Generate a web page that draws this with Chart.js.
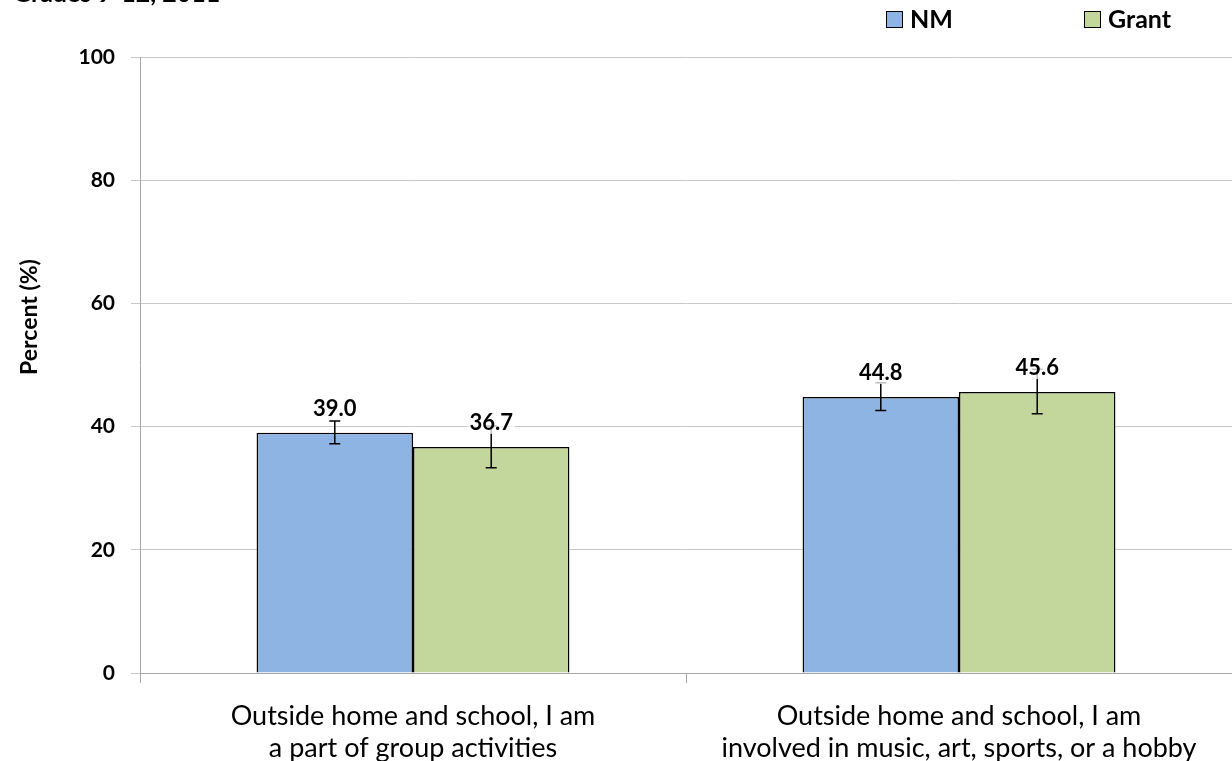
<!DOCTYPE html>
<html>
<head>
<meta charset="utf-8">
<script src="https://cdn.jsdelivr.net/npm/chart.js@4"></script>
<style>
  body { margin: 0; background: #fff; overflow: hidden; }
  #wrap { position: relative; width: 1232px; height: 761px; }
  #cut { position: absolute; left: 13px; top: -23px; font: bold 25px Lato, sans-serif; color: #000; white-space: nowrap; }
</style>
</head>
<body>
<div id="wrap">
  <canvas id="chart" width="1232" height="761"></canvas>
  <div id="cut">Grades 9-12, 2011</div>
</div>
<script>
// --- Data ---
const categories = [
    ['Outside home and school, I am', 'a part of group activities'],
    ['Outside home and school, I am', 'involved in music, art, sports, or a hobby']
];
const nmValues = [39.0, 44.8];
const nmLow = [37.2, 42.6];
const nmHigh = [40.9, 47.1];
const grantValues = [36.7, 45.6];
const grantLow = [33.3, 42.1];
const grantHigh = [40.1, 49.3];
const yTicks = [0, 20, 40, 60, 80, 100];
const yTitle = 'Percent (%)';

const seriesColors = {
    nm: '#8eb4e3',
    grant: '#c3d69b'
};

const FONT = 'Lato, "Open Sans", sans-serif';

// --- Plugins ---
const errorBars = {
    id: 'errorBars',
    afterDatasetsDraw(chart) {
        const ctx = chart.ctx;
        const y = chart.scales.y;
        const lows = [nmLow, grantLow];
        const highs = [nmHigh, grantHigh];
        ctx.save();
        ctx.strokeStyle = '#000';
        ctx.lineWidth = 1.5;
        chart.data.datasets.forEach((ds, di) => {
            chart.getDatasetMeta(di).data.forEach((bar, i) => {
                const x = bar.x;
                const yl = y.getPixelForValue(lows[di][i]);
                const yh = y.getPixelForValue(highs[di][i]);
                ctx.beginPath();
                ctx.moveTo(x, yl); ctx.lineTo(x, yh);
                ctx.moveTo(x - 5.5, yl); ctx.lineTo(x + 5.5, yl);
                ctx.moveTo(x - 5.5, yh); ctx.lineTo(x + 5.5, yh);
                ctx.stroke();
            });
        });
        ctx.restore();
    }
};

const valueLabels = {
    id: 'valueLabels',
    afterDraw(chart) {
        const ctx = chart.ctx;
        ctx.save();
        ctx.font = 'bold 22px ' + FONT;
        ctx.textAlign = 'center';
        ctx.textBaseline = 'middle';
        chart.data.datasets.forEach((ds, di) => {
            chart.getDatasetMeta(di).data.forEach((bar, i) => {
                const txt = ds.data[i].toFixed(1);
                const w = ctx.measureText(txt).width;
                const cy = bar.y - 24;
                ctx.fillStyle = 'rgba(255,255,255,0.75)';
                ctx.fillRect(bar.x - w / 2 - 2, cy - 11, w + 4, 22);
                ctx.fillStyle = '#000';
                ctx.fillText(txt, bar.x, cy);
            });
        });
        ctx.restore();
    }
};

const topLegend = {
    id: 'topLegend',
    afterDraw(chart) {
        const ctx = chart.ctx;
        const spots = [886, 1084];
        ctx.save();
        ctx.font = 'bold 25px ' + FONT;
        ctx.textBaseline = 'middle';
        chart.data.datasets.forEach((ds, di) => {
            const x = spots[di];
            ctx.fillStyle = ds.backgroundColor;
            ctx.fillRect(x, 11, 17, 17);
            ctx.strokeStyle = '#000';
            ctx.lineWidth = 1;
            ctx.strokeRect(x + 0.5, 11.5, 16, 16);
            ctx.fillStyle = '#000';
            ctx.fillText(ds.label, x + 24, 20);
        });
        ctx.restore();
    }
};

const sideTitle = {
    id: 'sideTitle',
    afterDraw(chart) {
        const ctx = chart.ctx;
        ctx.save();
        ctx.translate(30, 317);
        ctx.rotate(-Math.PI / 2);
        ctx.font = 'bold 23px ' + FONT;
        ctx.textAlign = 'center';
        ctx.textBaseline = 'middle';
        ctx.fillStyle = '#000';
        ctx.fillText(yTitle, 0, 0);
        ctx.restore();
    }
};

// --- Chart ---
new Chart(document.getElementById('chart'), {
    type: 'bar',
    data: {
        labels: categories,
        datasets: [
            {
                label: 'NM',
                data: nmValues,
                backgroundColor: seriesColors.nm,
                borderColor: '#000',
                borderWidth: 1.5,
                categoryPercentage: 0.573,
                barPercentage: 1
            },
            {
                label: 'Grant',
                data: grantValues,
                backgroundColor: seriesColors.grant,
                borderColor: '#000',
                borderWidth: 1.5,
                categoryPercentage: 0.573,
                barPercentage: 1
            }
        ]
    },
    options: {
        responsive: false,
        animation: false,
        layout: { padding: { top: 57, left: 0, right: 0, bottom: 0 } },
        plugins: {
            legend: { display: false },
            tooltip: { enabled: false }
        },
        scales: {
            x: {
                afterFit: s => { s.height = 88; },
                grid: {
                    offset: true,
                    drawOnChartArea: false,
                    tickLength: 10,
                    color: '#a6a6a6'
                },
                border: { color: '#a6a6a6', width: 1 },
                ticks: {
                    color: '#000',
                    font: { family: FONT, size: 27, lineHeight: 1.2 },
                    padding: 17,
                    maxRotation: 0,
                    autoSkip: false
                }
            },
            y: {
                min: 0,
                max: 100,
                afterFit: s => { s.width = 140; },
                afterBuildTicks: s => { s.ticks = yTicks.map(v => ({ value: v })); },
                grid: { color: '#c8c8c8', tickLength: 9 },
                border: { color: '#a6a6a6', width: 1 },
                ticks: {
                    color: '#000',
                    font: { family: FONT, size: 21, weight: 'bold' },
                    padding: 16
                }
            }
        }
    },
    plugins: [errorBars, valueLabels, topLegend, sideTitle]
});
</script>
</body>
</html>
